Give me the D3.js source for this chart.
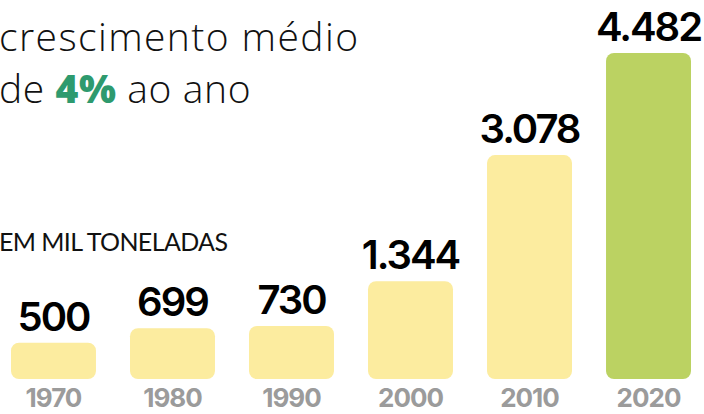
<!DOCTYPE html>
<html>
<head>
<meta charset="utf-8">
<script src="https://cdn.jsdelivr.net/npm/d3@7"></script>
<style>
  body { margin: 0; background: #fff; }
  svg { display: block; }
</style>
</head>
<body>
<div id="chart"></div>
<script>
// valores em mil toneladas
const anos = ['1970', '1980', '1990', '2000', '2010', '2020'];
const valores = [500, 699, 730, 1344, 3078, 4482];
const rotulos = ['500', '699', '730', '1.344', '3.078', '4.482'];

const width = 704, height = 414;
const svg = d3.select('#chart').append('svg')
    .attr('width', width)
    .attr('height', height);

const x = d3.scaleBand()
    .domain(anos)
    .range([11, 691])
    .paddingInner(0.286)
    .paddingOuter(0);

const y = d3.scaleLinear()
    .domain([0, 4482])
    .range([379, 53]);

// titulo
const fonte = "'Open Sans', 'Lato', sans-serif";
svg.append('text')
    .attr('x', -1).attr('y', 51)
    .attr('font-family', fonte)
    .attr('font-weight', 300)
    .attr('font-size', 39)
    .attr('textLength', 359)
    .attr('fill', '#111')
    .text('crescimento médio');

const l2 = svg.append('text')
    .attr('x', -1).attr('y', 103)
    .attr('font-family', fonte)
    .attr('font-weight', 300)
    .attr('font-size', 39)
    .attr('letter-spacing', 0.6)
    .attr('fill', '#111');
l2.append('tspan').text('de ');
l2.append('tspan').attr('font-weight', 800).attr('fill', '#2e9a6e').text('4%');
l2.append('tspan').text(' ao ano');

svg.append('text')
    .attr('x', -1).attr('y', 251)
    .attr('font-family', "'Lato', sans-serif")
    .attr('font-weight', 400)
    .attr('font-size', 25)
    .attr('textLength', 229)
    .attr('fill', '#111')
    .text('EM MIL TONELADAS');

// barras
svg.selectAll('rect.barra')
    .data(anos)
    .join('rect')
    .attr('class', 'barra')
    .attr('x', d => x(d))
    .attr('y', (d, i) => y(valores[i]))
    .attr('width', x.bandwidth())
    .attr('height', (d, i) => y(0) - y(valores[i]))
    .attr('rx', 8)
    .attr('fill', (d, i) => i === anos.length - 1 ? '#bbd262' : '#fcec9f');

// valores
svg.selectAll('text.valor')
    .data(anos)
    .join('text')
    .attr('class', 'valor')
    .attr('x', d => x(d) + x.bandwidth() / 2)
    .attr('y', (d, i) => y(valores[i]) - 12)
    .attr('text-anchor', 'middle')
    .attr('font-family', "'Inter', 'Noto Sans', sans-serif")
    .attr('font-weight', 600)
    .attr('font-size', 40)
    .attr('letter-spacing', -2)
    .attr('fill', '#000')
    .text((d, i) => rotulos[i]);

// anos
svg.selectAll('text.ano')
    .data(anos)
    .join('text')
    .attr('class', 'ano')
    .attr('x', d => x(d) + x.bandwidth() / 2)
    .attr('y', 407)
    .attr('text-anchor', 'middle')
    .attr('font-family', "'Inter', 'Noto Sans', sans-serif")
    .attr('font-weight', 700)
    .attr('font-size', 26)
    .attr('letter-spacing', -1)
    .attr('fill', '#9b9b9b')
    .text(d => d);
</script>
</body>
</html>
